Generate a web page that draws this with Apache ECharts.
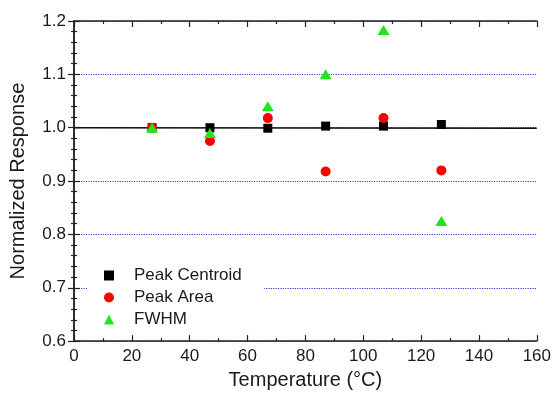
<!DOCTYPE html>
<html><head><meta charset="utf-8">
<script src="https://cdn.jsdelivr.net/npm/echarts@6/dist/echarts.min.js"></script>
<style>html,body{margin:0;padding:0;background:#fff}#c{width:554px;height:395px}</style>
</head><body><div id="c"></div>
<script>
const temps = [27, 47, 67, 87, 107, 127];
const centroid = [1.000, 1.000, 0.999, 1.003, 1.003, 1.006];
const area = [1.000, 0.975, 1.018, 0.918, 1.018, 0.920];
const fwhm = [1.000, 0.990, 1.040, 1.100, 1.183, 0.825];
const fitX = [0, 160];
const fitY = [1.000, 0.999];
const seriesNames = ['Peak Centroid', 'Peak Area', 'FWHM'];
const xTitle = 'Temperature (°C)';
const yTitle = 'Normalized Response';

const pair = (xs, ys) => xs.map((x, i) => [x, ys[i]]);
const FONT = 'Liberation Sans, Arial, sans-serif';
const chart = echarts.init(document.getElementById('c'));
const baseX = {
  type: 'value', min: 0, max: 160, interval: 20,
  axisLine: {show: true, lineStyle: {color: '#222', width: 1.5}},
  axisTick: {show: true, inside: true, length: 6, lineStyle: {color: '#222', width: 1.2}},
  minorTick: {show: true, splitNumber: 2, length: 3, lineStyle: {color: '#222', width: 1.2}},
  splitLine: {show: false}
};
const baseY = {
  type: 'value', min: 0.6, max: 1.2, interval: 0.1,
  axisLine: {show: true, lineStyle: {color: '#222', width: 1.5}},
  axisTick: {show: true, inside: true, length: 6, lineStyle: {color: '#222', width: 1.2}},
  minorTick: {show: true, splitNumber: 5, length: 3, lineStyle: {color: '#222', width: 1.2}},
  splitLine: {show: false}
};
chart.setOption({
  animation: false,
  backgroundColor: '#fff',
  grid: {left: 70, right: 15, top: 21, bottom: 49},
  xAxis: [
    Object.assign({}, baseX, {
      position: 'bottom',
      axisLabel: {fontSize: 17, color: '#1a1a1a', fontFamily: FONT, margin: 7},
      name: xTitle, nameLocation: 'middle', nameGap: 27,
      nameTextStyle: {fontSize: 20, color: '#1a1a1a', fontFamily: FONT}
    }),
    Object.assign({}, baseX, {position: 'top', axisLabel: {show: false}})
  ],
  yAxis: [
    Object.assign({}, baseY, {
      position: 'left',
      axisLabel: {fontSize: 17, color: '#1a1a1a', fontFamily: FONT, margin: 8,
        formatter: v => v.toFixed(1)},
      splitLine: {show: true, lineStyle: {color: '#3a3ad0', type: 'dotted', width: 1.2}},
      name: yTitle, nameLocation: 'middle', nameGap: 46,
      nameTextStyle: {fontSize: 20, color: '#1a1a1a', fontFamily: FONT}
    }),
    Object.assign({}, baseY, {position: 'right', axisLabel: {show: false}})
  ],
  legend: {
    orient: 'vertical', left: 87, top: 263,
    padding: [4, 22, 6, 17],
    backgroundColor: '#fff',
    itemWidth: 10, itemHeight: 10, itemGap: 5,
    itemStyle: {opacity: 1},
    textStyle: {fontSize: 17, color: '#1a1a1a', fontFamily: FONT, padding: [0, 0, 0, 15]},
    data: [
      {name: seriesNames[0], icon: 'rect'},
      {name: seriesNames[1], icon: 'circle'},
      {name: seriesNames[2], icon: 'triangle'}
    ]
  },
  series: [
    {type: 'line', data: pair(fitX, fitY), showSymbol: false, symbol: 'none',
     lineStyle: {color: '#111', width: 1.6}, z: 1, silent: true},
    {name: seriesNames[0], type: 'scatter', data: pair(temps, centroid),
     symbol: 'rect', symbolSize: 9, itemStyle: {color: '#000', opacity: 1}, z: 3},
    {name: seriesNames[1], type: 'scatter', data: pair(temps, area),
     symbol: 'circle', symbolSize: 10, itemStyle: {color: '#ff0000', opacity: 1}, z: 3},
    {name: seriesNames[2], type: 'scatter', data: pair(temps, fwhm),
     symbol: 'triangle', symbolSize: [12, 10], itemStyle: {color: '#1ee61e', opacity: 1}, z: 4}
  ]
});
</script></body></html>
